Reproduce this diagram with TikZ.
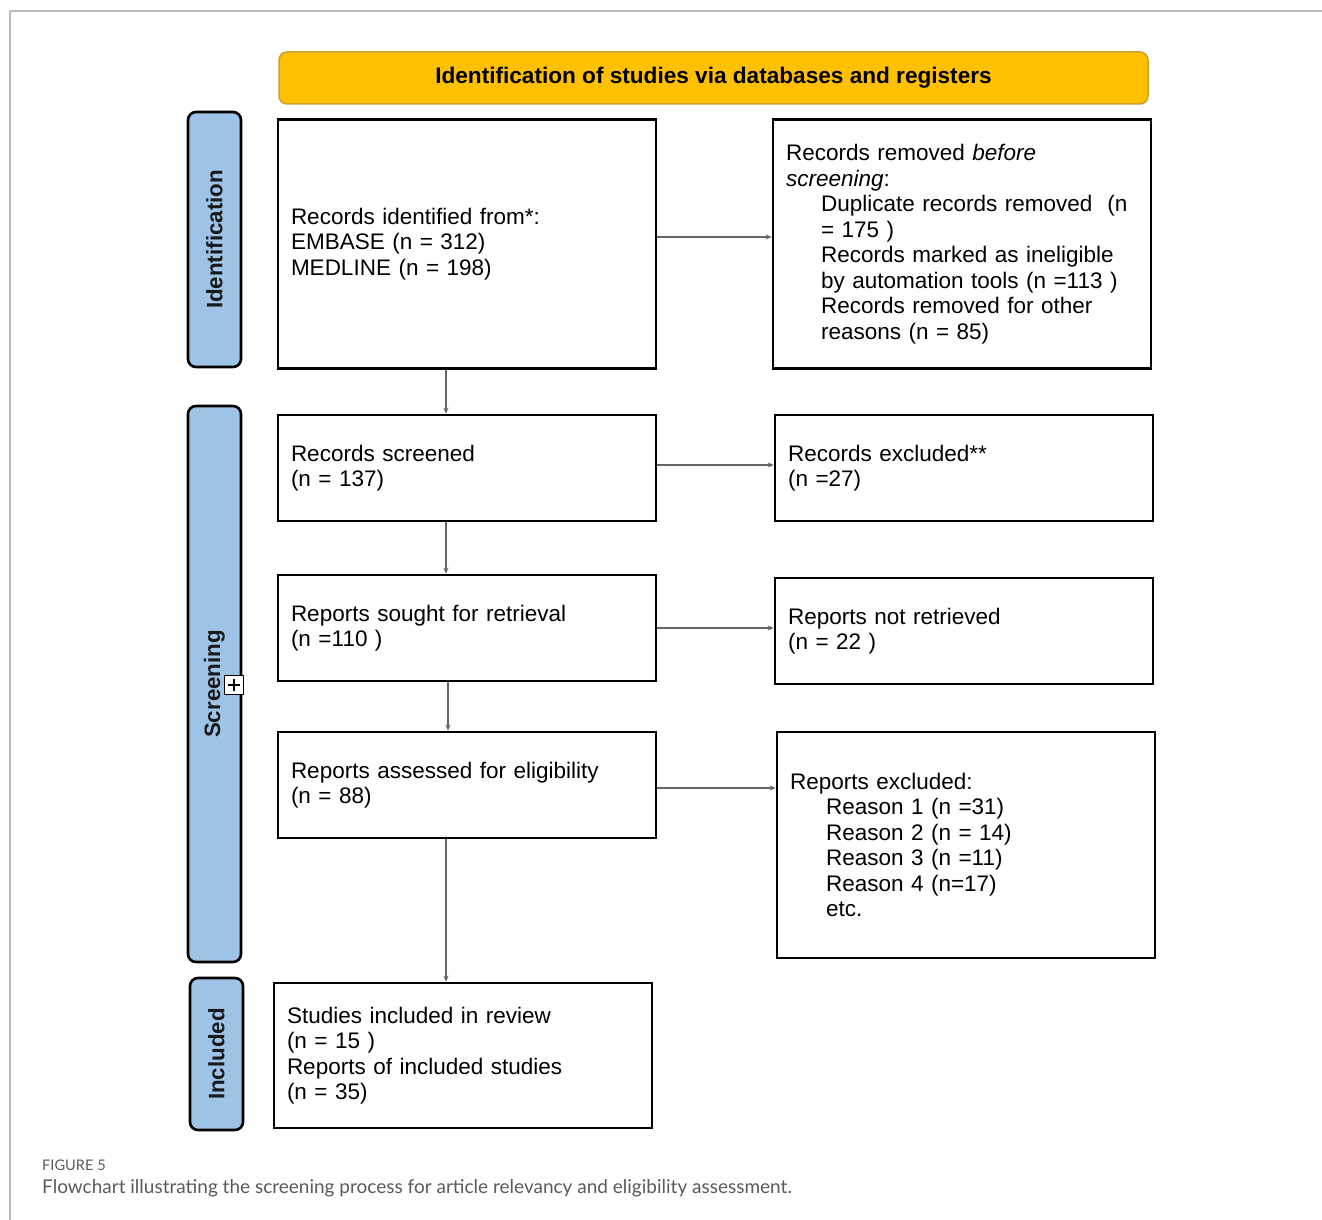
\documentclass[tikz,border=0pt]{standalone}
\usepackage{fontspec}
\setmainfont{Liberation Sans}
\newfontfamily\capfont{Lato}
\usetikzlibrary{arrows.meta,calc}
\definecolor{sideblue}{HTML}{9DC3E6}
\definecolor{banneryellow}{HTML}{FFC000}
\definecolor{bannerborder}{HTML}{C9A227}
\definecolor{framegray}{HTML}{BDBDBD}
\definecolor{capgray}{HTML}{5A5A5A}
\begin{document}
\begin{tikzpicture}[x=1pt,y=-1pt,
  box/.style={draw=black, line width=2.6pt, fill=white, inner xsep=13pt, inner ysep=0pt,
    align=left, font=\fontsize{22.5}{25.5}\selectfont, anchor=center},
  side/.style={draw=black, line width=2.6pt, fill=sideblue, rounded corners=8pt, inner sep=0pt,
    rotate=90, font=\bfseries\fontsize{22.3}{26}\selectfont, text=black!90},
  arr/.style={draw=black!60, line width=1.1pt, -{Stealth[length=6pt,width=5pt]}},
]
\useasboundingbox (0,0) rectangle (1322,1220);
% outer frame
\coordinate (ftl) at (10,11);
\coordinate (ftr) at (1322,11);
\coordinate (fbl) at (10,1220);
\draw[framegray, line width=1.3pt] (ftr) -- (ftl) -- (fbl);

% banner
\node[draw=bannerborder, line width=1.5pt, fill=banneryellow, rounded corners=8pt,
  minimum width=869pt, minimum height=52pt, font=\bfseries\fontsize{22.6}{24}\selectfont]
  (banner) at (713.5,78) {Identification of studies via databases and registers};

% side labels
\node[side, minimum width=255pt, minimum height=53pt] (s1) at (214.5,239.5) {Identification};
\node[side, minimum width=556pt, minimum height=53pt] (s2) at (214.5,684) {Screening};
\node[side, minimum width=152pt, minimum height=53pt] (s3) at (216.5,1054) {Included};

% plus box
\node[draw=black, line width=1.2pt, fill=white, minimum size=19pt, inner sep=0pt] (plus) at (234,685) {};
\draw[line width=1.3pt] ($(plus.center)+(-6,0)$) -- ($(plus.center)+(6,0)$);
\draw[line width=1.3pt] ($(plus.center)+(0,-6)$) -- ($(plus.center)+(0,6)$);

% boxes
\node[box, text width=352pt, minimum height=249pt] (b1) at (467,244)
  {Records identified from*:\\EMBASE (n = 312)\\MEDLINE (n = 198)};
\node[box, text width=352pt, minimum height=249pt] (b2) at (962,244)
  {Records removed \emph{before}\\\emph{screening}:\\
   \hspace*{35pt}Duplicate records removed\ \ (n\\
   \hspace*{35pt}= 175 )\\
   \hspace*{35pt}Records marked as ineligible\\
   \hspace*{35pt}by automation tools (n =113 )\\
   \hspace*{35pt}Records removed for other\\
   \hspace*{35pt}reasons (n = 85)};
\node[box, text width=352pt, minimum height=106pt] (b3) at (467,468)
  {Records screened\\(n = 137)};
\node[box, text width=352pt, minimum height=106pt] (b4) at (964,468)
  {Records excluded**\\(n =27)};
\node[box, text width=352pt, minimum height=106pt] (b5) at (467,628)
  {Reports sought for retrieval\\(n =110 )};
\node[box, text width=352pt, minimum height=106pt] (b6) at (964,631)
  {Reports not retrieved\\(n = 22 )};
\node[box, text width=352pt, minimum height=106pt] (b7) at (467,785)
  {Reports assessed for eligibility\\(n = 88)};
\node[box, text width=352pt, minimum height=226pt] (b8) at (966,845)
  {Reports excluded:\\
   \hspace*{36pt}Reason 1 (n =31)\\
   \hspace*{36pt}Reason 2 (n = 14)\\
   \hspace*{36pt}Reason 3 (n =11)\\
   \hspace*{36pt}Reason 4 (n=17)\\
   \hspace*{36pt}etc.};
\node[box, text width=352pt, minimum height=145pt] (b9) at (463,1055.5)
  {Studies included in review\\(n = 15 )\\Reports of included studies\\(n = 35)};

% connectors
\coordinate (vx) at (446,0);
\coordinate (vx2) at (448,0);
\coordinate (h1) at (0,237);
\coordinate (h3) at (0,465);
\coordinate (h5) at (0,628);
\coordinate (h7) at (0,788);
\draw[arr] (b1.east |- h1) -- (b2.west |- h1);
\draw[arr] (b3.east |- h3) -- (b4.west |- h3);
\draw[arr] (b5.east |- h5) -- (b6.west |- h5);
\draw[arr] (b7.east |- h7) -- (b8.west |- h7);
\draw[arr] (b1.south -| vx) -- (b3.north -| vx);
\draw[arr] (b3.south -| vx) -- (b5.north -| vx);
\draw[arr] (b5.south -| vx2) -- (b7.north -| vx2);
\draw[arr] (b7.south -| vx) -- (b9.north -| vx);

% caption
\node[anchor=west, inner sep=0pt, text=capgray, font=\capfont\fontsize{14.6}{17}\selectfont] (fig) at (42,1165) {FIGURE 5};
\node[anchor=west, inner sep=0pt, text=capgray, font=\capfont\fontsize{19}{23}\selectfont] (cap) at (42,1188)
  {Flowchart illustrating the screening process for article relevancy and eligibility assessment.};
\end{tikzpicture}
\end{document}
